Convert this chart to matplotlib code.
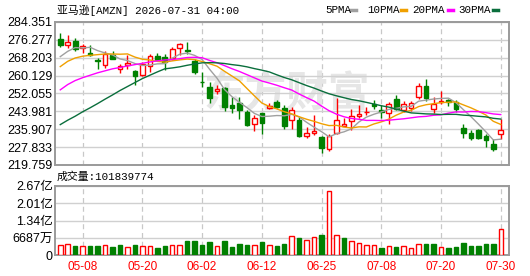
import numpy as np
import pandas as pd
import matplotlib
matplotlib.use("Agg")
import matplotlib.pyplot as plt
from matplotlib.lines import Line2D

# trading days shown (2026)
dates = ["05-05", "05-06", "05-07", "05-08", "05-11", "05-12", "05-13", "05-14", "05-15", "05-18",
         "05-19", "05-20", "05-21", "05-22", "05-26", "05-27", "05-28", "05-29", "06-01", "06-02",
         "06-03", "06-04", "06-05", "06-08", "06-09", "06-10", "06-11", "06-12", "06-15", "06-16",
         "06-17", "06-18", "06-22", "06-23", "06-24", "06-25", "06-26", "06-29", "06-30", "07-01",
         "07-02", "07-06", "07-07", "07-08", "07-09", "07-10", "07-13", "07-14", "07-15", "07-16",
         "07-17", "07-20", "07-21", "07-22", "07-23", "07-24", "07-27", "07-28", "07-29", "07-30"]

opens = [276.83, 273.83, 275.78, 272.47, 270.37, 267.06, 265.10, 269.32, 263.00, 264.80,
         262.25, 260.60, 264.65, 268.87, 268.56, 268.26, 272.77, 271.72, 266.61, 257.44,
         255.03, 253.38, 254.73, 247.07, 247.82, 243.76, 238.19, 243.31, 245.56, 248.27,
         245.56, 240.30, 240.15, 232.78, 234.43, 232.18, 227.07, 234.43, 237.59, 239.85,
         241.80, 243.60, 247.37, 244.81, 243.46, 249.62, 244.81, 245.71, 250.37, 255.48,
         244.96, 248.27, 249.32, 248.27, 236.54, 234.28, 235.79, 232.93, 229.32, 233.68]
highs = [279.39, 278.34, 277.28, 274.43, 273.83, 268.11, 271.27, 271.12, 265.25, 269.32,
         262.55, 266.31, 269.92, 270.37, 269.77, 273.23, 275.03, 275.33, 267.81, 261.80,
         257.29, 255.78, 255.03, 250.52, 250.37, 244.51, 242.25, 243.46, 247.97, 249.32,
         246.76, 246.01, 241.50, 236.99, 242.25, 232.93, 233.83, 250.07, 241.05, 244.96,
         246.76, 246.01, 249.02, 246.76, 248.27, 251.42, 248.72, 248.72, 256.84, 258.79,
         250.52, 253.08, 249.77, 249.02, 238.19, 235.34, 236.24, 233.98, 231.43, 240.75]
lows = [273.08, 272.77, 271.12, 270.52, 268.87, 263.30, 263.60, 267.51, 261.50, 263.30,
        255.78, 260.00, 261.80, 266.61, 262.55, 267.21, 269.47, 269.92, 260.90, 254.88,
        247.97, 252.03, 244.06, 243.46, 240.75, 237.44, 235.18, 233.98, 245.26, 245.56,
        236.24, 235.94, 232.48, 232.03, 233.23, 225.26, 226.16, 233.98, 237.59, 235.49,
        241.05, 242.25, 244.96, 241.05, 238.49, 244.66, 243.91, 244.06, 249.47, 248.57,
        243.46, 247.52, 246.46, 243.76, 232.03, 230.97, 231.28, 227.97, 226.01, 231.43]
closes = [274.13, 275.33, 272.32, 273.38, 269.47, 266.61, 270.07, 267.81, 264.35, 265.86,
          259.84, 265.56, 268.87, 267.06, 266.31, 272.17, 274.58, 271.42, 261.80, 257.14,
          250.07, 254.28, 246.01, 245.56, 244.51, 238.04, 241.20, 238.94, 246.31, 246.01,
          237.44, 244.51, 232.93, 234.28, 235.03, 227.22, 232.93, 240.00, 238.49, 241.80,
          242.70, 243.90, 246.46, 243.76, 247.52, 245.11, 247.22, 247.67, 255.33, 250.07,
          247.52, 248.57, 248.27, 245.26, 234.00, 232.03, 231.73, 230.83, 226.77, 235.79]
# volume in shares
volumes = [39.9e6, 43.7e6, 36.0e6, 36.0e6, 36.0e6, 36.0e6, 38.6e6, 33.4e6, 39.9e6, 32.2e6,
           39.9e6, 36.0e6, 36.0e6, 29.6e6, 36.0e6, 39.9e6, 39.9e6, 55.3e6, 55.3e6, 41.2e6,
           51.4e6, 36.0e6, 55.3e6, 33.4e6, 43.7e6, 39.9e6, 38.6e6, 51.4e6, 38.6e6, 36.0e6,
           43.7e6, 73.3e6, 66.9e6, 59.2e6, 69.4e6, 78.4e6, 246.9e6, 77.2e6, 66.9e6, 54.0e6,
           46.3e6, 38.6e6, 38.6e6, 28.3e6, 34.7e6, 32.2e6, 34.7e6, 27.0e6, 42.4e6, 43.7e6,
           43.7e6, 30.9e6, 28.3e6, 32.2e6, 46.3e6, 34.7e6, 34.7e6, 43.7e6, 43.7e6, 101839774]

# moving average values before enough history is on screen
ma5_head = [268.7, 271.1, 272.8, 272.6]
ma10_head = [264.2, 266.6, 268.1, 268.9, 269.3, 269.6, 269.9, 269.9, 269.8]
ma20_head = [253.7, 256.1, 257.9, 259.2, 260.3, 261.4, 262.3, 263.2, 263.8, 264.5,
             265.1, 265.7, 266.3, 266.8, 267.2, 267.4, 267.8, 268.3, 268.4]
ma30_head = [238.0, 240.0, 241.8, 243.8, 245.6, 247.5, 249.5, 251.4, 253.4, 255.2,
             257.0, 258.8, 260.3, 261.8, 263.2, 263.6, 264.1, 264.8, 265.4, 265.9,
             266.0, 265.9, 265.6, 265.1, 264.7, 264.1, 263.3, 262.6, 261.8]

price_ticks = [219.759, 227.833, 235.907, 243.981, 252.055, 260.129, 268.203, 276.277, 284.351]
vol_ticks = [0, 66.87e6, 133.74e6, 200.61e6, 267.48e6]
vol_labels = ["0", "6687万", "1.34亿", "2.01亿", "2.67亿"]
label_idx = [3, 11, 19, 27, 35, 43, 51, 59]

RED = "#ff0000"
GREEN = "#008000"
ma_colors = {"5PMA": "#a0a0a0", "10PMA": "#f0a000", "20PMA": "#ff00ff", "30PMA": "#0a6e3c"}
CJK = ["Liberation Mono", "Noto Sans CJK SC"]
NUM = ["Liberation Sans", "Noto Sans CJK SC"]

x = np.arange(len(closes))
o = np.array(opens); c = np.array(closes); h = np.array(highs); l = np.array(lows)
up = c >= o


def moving_avg(n, head):
    m = pd.Series(c).rolling(n).mean().to_numpy()
    m[:len(head)] = head
    return m


mas = {"5PMA": moving_avg(5, ma5_head), "10PMA": moving_avg(10, ma10_head),
       "20PMA": moving_avg(20, ma20_head), "30PMA": moving_avg(30, ma30_head)}

fig = plt.figure(figsize=(5.3, 2.76), dpi=100)
ax = fig.add_axes([0.1047, 0.4022, 0.8566, 0.5181])
axv = fig.add_axes([0.1047, 0.075, 0.8566, 0.2511])

for a in (ax, axv):
    a.set_xlim(-0.64, 60.17)
    for s in a.spines.values():
        s.set_color("#9a9a9a")
        s.set_linewidth(1.4)
    a.set_xticks(label_idx)
    a.tick_params(length=0)
    for i in label_idx:
        a.axvline(i, color="#c8c8c8", lw=0.9, ls=(0, (4, 3)), zorder=0)

# watermark
ax.text(0.51, 0.5, "东方财富", transform=ax.transAxes, fontsize=30, color="#e6e6e6",
        fontweight="bold", family="Noto Sans CJK SC", ha="center", va="center", zorder=0)

# price panel
ax.set_ylim(price_ticks[0], price_ticks[-1])
ax.set_yticks(price_ticks)
ax.set_yticklabels([f"{t:.3f}" for t in price_ticks], family=NUM, fontsize=9)
ax.grid(axis="y", color="#d0d0d0", lw=1)
ax.set_xticklabels([])
ax.tick_params(axis="y", pad=2)

cols = np.where(up, RED, GREEN)
ax.vlines(x, l, h, colors=cols, lw=1, zorder=2)
body_h = np.maximum(np.abs(c - o), 0.25)
ax.bar(x, body_h, bottom=np.minimum(o, c), width=0.62,
       color=np.where(up, "white", GREEN), edgecolor=cols, linewidth=1, zorder=3)

for name, m in mas.items():
    ax.plot(x, m, color=ma_colors[name], lw=1, zorder=4)

# volume panel
vol_up = np.r_[True, c[1:] >= c[:-1]]
vcols = np.where(vol_up, RED, GREEN)
axv.bar(x, volumes, width=0.6, color=np.where(vol_up, "white", GREEN),
        edgecolor=vcols, linewidth=1, zorder=3)
axv.set_ylim(0, vol_ticks[-1])
axv.set_yticks(vol_ticks)
axv.set_yticklabels(vol_labels, family=NUM, fontsize=9)
axv.grid(axis="y", color="#d0d0d0", lw=1)
axv.set_xticklabels([dates[i] for i in label_idx], color=RED, family=NUM, fontsize=8.5)
axv.tick_params(axis="x", pad=4)
axv.tick_params(axis="y", pad=2)

# header texts
fig.text(57 / 530, 1 - 10 / 276, "亚马逊[AMZN] 2026-07-31 04:00", family=CJK, fontsize=7.8,
         va="center", ha="left")
fig.text(57 / 530, 1 - 177 / 276, f"成交量:{volumes[-1]:.0f}", family=CJK, fontsize=7.8,
         va="center", ha="left")
legend_pos = [(325, 351), (367, 401), (412, 448), (458, 493)]
for (tx, lx), (name, col) in zip(legend_pos, ma_colors.items()):
    fig.text(tx / 530, 1 - 10 / 276, name, family=CJK, fontsize=7.8, va="center", ha="left")
    fig.add_artist(Line2D([lx / 530, (lx + 5) / 530], [1 - 10 / 276] * 2, color=col, lw=2.5,
                          transform=fig.transFigure))

plt.savefig("out.png", dpi=100)
